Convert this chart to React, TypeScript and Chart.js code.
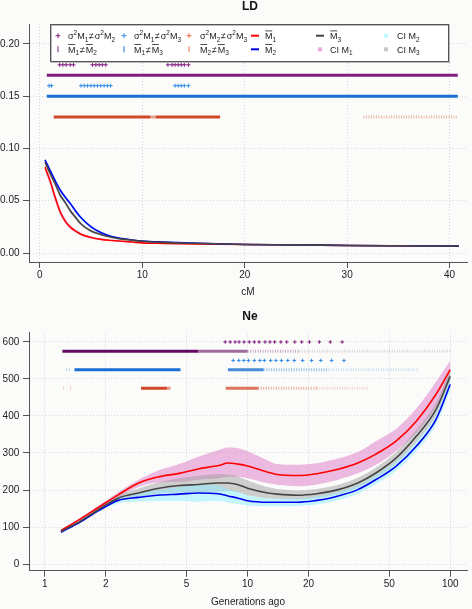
import React, { useEffect, useRef } from "react";
import { Chart, registerables } from "chart.js";

Chart.register(...registerables);

const FONT = '"Liberation Sans", Arial, Helvetica, sans-serif';
const BG = "#fbfcfa";

// ---------------- LD panel data ----------------
const ldCM = [0.5, 1, 1.5, 2, 2.5, 3, 3.5, 4, 5, 6, 7, 8, 9, 10, 12, 15, 20, 25, 30, 35, 40.9];
const ldM1 = [0.082, 0.069, 0.053, 0.039, 0.030, 0.0245, 0.021, 0.018, 0.0148, 0.013, 0.012, 0.0112, 0.0105, 0.0097, 0.0092, 0.0087, 0.0081, 0.0078, 0.0072, 0.0069, 0.0066];
const ldM2 = [0.089, 0.079, 0.069, 0.06, 0.053, 0.047, 0.04, 0.034, 0.025, 0.0193, 0.0157, 0.0138, 0.0125, 0.0115, 0.0105, 0.0095, 0.0082, 0.0078, 0.0072, 0.0069, 0.0067];
const ldM3 = [0.087, 0.076, 0.066, 0.055, 0.048, 0.04, 0.034, 0.028, 0.021, 0.0175, 0.015, 0.0133, 0.0123, 0.0112, 0.0102, 0.0093, 0.0082, 0.0078, 0.0072, 0.0069, 0.0067];
const ldCI1Lo = [0.079, 0.065, 0.049, 0.036, 0.028, 0.0225, 0.0195, 0.0167, 0.0138, 0.0122, 0.0113, 0.0106, 0.01, 0.0093, 0.0089, 0.0084, 0.0079, 0.0076, 0.007, 0.0067, 0.0064];
const ldCI1Hi = [0.085, 0.072, 0.056, 0.042, 0.033, 0.0265, 0.0225, 0.0193, 0.0158, 0.0138, 0.0127, 0.0118, 0.011, 0.0101, 0.0095, 0.009, 0.0083, 0.008, 0.0074, 0.0071, 0.0068];
const ldCI2Lo = [0.087, 0.077, 0.067, 0.058, 0.051, 0.045, 0.038, 0.032, 0.0235, 0.018, 0.0147, 0.013, 0.0118, 0.0109, 0.01, 0.0091, 0.0079, 0.0075, 0.007, 0.0067, 0.0065];
const ldCI2Hi = [0.091, 0.081, 0.071, 0.062, 0.055, 0.049, 0.042, 0.036, 0.0265, 0.0206, 0.0167, 0.0146, 0.0132, 0.0121, 0.011, 0.0099, 0.0085, 0.0081, 0.0074, 0.0071, 0.0069];
const ldCI3Lo = [0.085, 0.074, 0.064, 0.053, 0.046, 0.038, 0.032, 0.0265, 0.0198, 0.0165, 0.0142, 0.0126, 0.0117, 0.0107, 0.0098, 0.009, 0.0079, 0.0075, 0.007, 0.0067, 0.0065];
const ldCI3Hi = [0.089, 0.078, 0.068, 0.057, 0.05, 0.042, 0.036, 0.0295, 0.0222, 0.0185, 0.0158, 0.014, 0.0129, 0.0117, 0.0106, 0.0096, 0.0085, 0.0081, 0.0074, 0.0071, 0.0069];

// significance rows (LD)
const ldRowLevels = [0.18, 0.17, 0.16, 0.15, 0.14, 0.13];
const ldVar12 = [1.93, 2.25, 2.57, 2.96, 3.28, 5.14, 5.47, 5.79, 6.1, 6.43, 12.5, 12.9, 13.2, 13.5, 13.8, 14.1, 14.5];
const ldVar13 = [0.9, 1.13, 4.02, 4.34, 4.66, 4.98, 5.3, 5.62, 5.95, 6.27, 6.59, 6.91, 13.2, 13.5, 13.8, 14.1, 14.5];
const ldMean12 = [0.68, 40.8];
const ldMean12Alpha = [1];
const ldMean13 = [0.68, 40.8];
const ldMean13Alpha = [1];
const ldMean23 = [1.35, 10.8, 11.3, 17.6, 31.6, 40.7];
const ldMean23Alpha = [1, 0.5, 1, null, 0.4];

const ldXTicks = [0, 10, 20, 30, 40];
const ldYTicks = [0, 0.05, 0.1, 0.15, 0.2];

// ---------------- Ne panel data ----------------
const neGen = [1.2, 1.5, 1.85, 2.3, 2.9, 3.6, 4.6, 5.7, 7.2, 8, 9, 10, 12.6, 14, 17.7, 22, 25, 28, 35, 43, 54, 68, 85, 100];
const neM1 = [90, 122, 154, 187, 219, 235, 245, 257, 266, 273, 270, 265, 248, 242, 239, 244, 250, 256, 273, 297, 332, 386, 458, 525];
const neM2 = [86, 114, 145, 172, 180, 186, 189, 192, 190, 184, 178, 171, 167, 167, 167, 172, 177, 184, 201, 228, 264, 318, 390, 485];
const neM3 = [88, 116, 148, 178, 192, 204, 212, 215, 219, 219, 214, 205, 192, 189, 186, 190, 195, 201, 219, 246, 286, 345, 417, 507];
const neCI1Lo = [87, 118, 149, 180, 208, 220, 222, 228, 232, 236, 236, 232, 218, 214, 210, 215, 221, 228, 245, 268, 305, 354, 425, 500];
const neCI1Hi = [94, 126, 159, 194, 228, 252, 270, 290, 308, 315, 313, 305, 280, 270, 268, 272, 279, 285, 303, 332, 365, 420, 492, 550];
const neCI2Lo = [84, 111, 141, 164, 168, 170, 170, 168, 170, 166, 162, 158, 156, 156, 157, 161, 166, 173, 190, 216, 252, 305, 376, 468];
const neCI2Hi = [88, 117, 149, 180, 192, 200, 208, 214, 212, 203, 195, 186, 178, 177, 177, 183, 188, 195, 212, 240, 277, 331, 404, 502];
const neCI3Lo = [86, 113, 144, 172, 182, 190, 193, 194, 196, 197, 193, 186, 178, 176, 174, 178, 183, 189, 206, 232, 271, 329, 400, 490];
const neCI3Hi = [90, 119, 152, 186, 204, 220, 232, 238, 243, 242, 236, 226, 208, 203, 199, 203, 208, 214, 233, 261, 302, 362, 435, 525];

const neRowLevels = [600, 575, 550, 525, 500, 475];
const neVar12 = [7.76, 8.21, 8.68, 9.08, 9.61, 10.2, 10.8, 11.4, 12.2, 12.9, 13.6, 14.6, 15.6, 17.1, 18.5, 20.2, 22.6, 25.6, 29.3];
const neVar13 = [8.5, 9.06, 9.58, 10.1, 10.8, 11.5, 12.1, 13.0, 13.8, 14.7, 15.8, 17.0, 18.7, 20.7, 23.0, 26.0, 29.9];
const neMean12 = [1.22, 5.7, 10, 18, 101];
const neMean12Alpha = [1, 0.6, 0.35, 0.18];
const neMean13 = [1.27, 1.29, 1.31, 1.33, 1.4, 4.67, 8.0, 12, 25, 70];
const neMean13Alpha = [0.3, null, 0.3, null, 1, null, 0.8, 0.45, 0.2];
const neMean23 = [1.23, 1.25, 1.33, 1.35, 2.98, 4.0, 4.17, 7.8, 11.3, 22, 40];
const neMean23Alpha = [0.3, null, 0.3, null, 1, 0.55, null, 0.75, 0.45, 0.2];

const neXTicks = [1, 2, 5, 10, 20, 50, 100];
const neYTicks = [0, 100, 200, 300, 400, 500, 600];

// legend labels (^ = superscript, _ = subscript, ~ = overbar)
const legendLabels = [
  "σ^2M_1≠σ^2M_2", "~M_1≠~M_2",
  "σ^2M_1≠σ^2M_3", "~M_1≠~M_3",
  "σ^2M_2≠σ^2M_3", "~M_2≠~M_3",
  "~M_1", "~M_2",
  "~M_3", "CI M_1",
  "CI M_2", "CI M_3",
];

// ---------------- styles ----------------
const PURPLE = "128,28,128";
const BLUEROW = "24,110,210";
const BLUECROSS = "50,140,230";
const ORANGE = "210,72,40";
const RED = "#ff0000";
const BLUE = "#0000ee";
const BLACK = "#454545";
const PINK = "rgba(222,120,200,0.5)";
const CYAN = "rgba(140,238,255,0.5)";
const GRAY = "rgba(150,150,150,0.45)";

const legendKinds = [
  ["cross", `rgb(${PURPLE})`], ["bar", `rgb(${PURPLE})`],
  ["cross", `rgb(${BLUECROSS})`], ["bar", `rgb(${BLUEROW})`],
  ["cross", "rgb(232,110,70)"], ["bar", "rgb(232,110,70)"],
  ["line", RED], ["line", BLUE],
  ["line", BLACK], ["sq", "rgba(236,170,220,1)"],
  ["sq", "rgba(190,248,255,1)"], ["sq", "rgba(200,200,200,1)"],
];

function zip(xs: number[], ys: number[]) {
  return xs.map((x, i) => ({ x, y: ys[i] }));
}

function lineDs(xs: number[], ys: number[], color: string) {
  return {
    data: zip(xs, ys), borderColor: color, borderWidth: 1.6, pointRadius: 0,
    fill: false, cubicInterpolationMode: "monotone", order: 0,
  };
}

function bandDs(xs: number[], lo: number[], hi: number[], color: string) {
  return [
    { data: zip(xs, lo), borderWidth: 0, borderColor: "rgba(0,0,0,0)", pointRadius: 0, fill: false, cubicInterpolationMode: "monotone", order: 3 },
    { data: zip(xs, hi), borderWidth: 0, borderColor: "rgba(0,0,0,0)", pointRadius: 0, fill: "-1", backgroundColor: color, cubicInterpolationMode: "monotone", order: 3 },
  ];
}

function rowDs(xs: number[], level: number, alphas: (number | null)[], rgb: string, width: number) {
  return {
    data: xs.map((x) => ({ x, y: level })),
    borderColor: `rgba(${rgb},1)`,
    borderWidth: width,
    pointRadius: 0,
    fill: false,
    tension: 0,
    order: 1,
    segment: {
      borderColor: (ctx: any) => {
        const a = alphas[ctx.p0DataIndex];
        return a == null ? "rgba(0,0,0,0)" : `rgba(${rgb},${a})`;
      },
      borderDash: (ctx: any) => {
        const a = alphas[ctx.p0DataIndex];
        return a != null && a < 0.5 ? [1, 1.5] : undefined;
      },
    },
  };
}

function crossDs(xs: number[], level: number, rgb: string, r: number) {
  return {
    data: xs.map((x) => ({ x, y: level })),
    showLine: false,
    pointStyle: "cross",
    pointRadius: r,
    pointBorderWidth: 1,
    pointBorderColor: `rgb(${rgb})`,
    pointBackgroundColor: `rgb(${rgb})`,
    order: 1,
  };
}

function axis(type: string, min: number, max: number, ticks: number[], fmt: (v: number) => string, title: string, size: number, isX: boolean, tickPad: number, titlePad: number) {
  return {
    type, min, max, bounds: "data",
    afterBuildTicks: (s: any) => { s.ticks = ticks.map((v) => ({ value: v })); },
    afterFit: (s: any) => { if (isX) s.height = size; else s.width = size; },
    grid: { color: "#d6d6d6", lineWidth: 1, drawTicks: true, tickLength: 6, tickColor: "#555", tickWidth: 1 },
    border: { display: true, color: "#555", width: 1, dash: [1, 2] },
    ticks: { color: "#222", font: { family: FONT, size: 10 }, padding: tickPad, autoSkip: false, maxRotation: 0, callback: (v: any) => fmt(Number(v)) },
    title: title ? { display: true, text: title, color: "#222", font: { family: FONT, size: 10 }, padding: { top: 0, bottom: titlePad } } : { display: false },
  };
}

function drawRich(ctx: CanvasRenderingContext2D, text: string, x: number, base: number, size: number) {
  let bar = false;
  let mode = "";
  for (const c of text) {
    if (c === "~") { bar = true; continue; }
    if (c === "^") { mode = "sup"; continue; }
    if (c === "_") { mode = "sub"; continue; }
    const fs = mode ? size * 0.72 : size;
    const dy = mode === "sub" ? size * 0.28 : mode === "sup" ? -size * 0.42 : 0;
    ctx.font = `${fs}px ${FONT}`;
    const pad = c === "≠" ? 0.8 : 0;
    x += pad;
    ctx.fillText(c, x, base + dy);
    const w = ctx.measureText(c).width;
    if (bar) {
      ctx.save();
      ctx.strokeStyle = "#222";
      ctx.lineWidth = 0.8;
      ctx.beginPath();
      ctx.moveTo(x + 0.3, base - size * 0.9);
      ctx.lineTo(x + w - 0.3, base - size * 0.9);
      ctx.stroke();
      ctx.restore();
    }
    x += w + pad;
    bar = false;
    mode = "";
  }
}

const LEG = { left: 50, top: 24, width: 398, height: 37, symX: [58, 124, 189, 255, 320, 386], textX: [68, 134, 200, 265, 330, 397], rowY: [35.7, 49.3] };

const legendPlugin = {
  id: "ldLegend",
  afterDraw(chart: any) {
    const ctx: CanvasRenderingContext2D = chart.ctx;
    ctx.save();
    ctx.fillStyle = "#ffffff";
    ctx.fillRect(LEG.left, LEG.top, LEG.width, LEG.height);
    ctx.strokeStyle = "#bbb";
    ctx.lineWidth = 1;
    ctx.strokeRect(LEG.left + 1.5, LEG.top + 1.5, LEG.width, LEG.height);
    ctx.strokeStyle = "#555";
    ctx.strokeRect(LEG.left + 0.5, LEG.top + 0.5, LEG.width, LEG.height);
    legendLabels.forEach((label, i) => {
      const col = Math.floor(i / 2);
      const row = i % 2;
      const sx = LEG.symX[col];
      const y = LEG.rowY[row];
      const [kind, color] = legendKinds[i];
      ctx.strokeStyle = color;
      ctx.fillStyle = color;
      if (kind === "cross") {
        ctx.lineWidth = 1;
        ctx.beginPath();
        ctx.moveTo(sx - 2.5, y); ctx.lineTo(sx + 2.5, y);
        ctx.moveTo(sx, y - 2.5); ctx.lineTo(sx, y + 2.5);
        ctx.stroke();
      } else if (kind === "bar") {
        ctx.lineWidth = 1;
        ctx.beginPath();
        ctx.moveTo(sx, y - 3); ctx.lineTo(sx, y + 3);
        ctx.stroke();
      } else if (kind === "line") {
        ctx.lineWidth = 2;
        ctx.beginPath();
        ctx.moveTo(sx - 4, y); ctx.lineTo(sx + 4, y);
        ctx.stroke();
      } else {
        ctx.fillRect(sx - 2, y - 2, 4, 4);
      }
      ctx.fillStyle = "#222";
      ctx.textBaseline = "alphabetic";
      ctx.textAlign = "left";
      drawRich(ctx, label, LEG.textX[col], y + 3.3, 9);
    });
    ctx.restore();
  },
};

function titlePlugin(text: string, x: number, y: number) {
  return {
    id: "panelTitle",
    afterDraw(chart: any) {
      const ctx: CanvasRenderingContext2D = chart.ctx;
      ctx.save();
      ctx.font = `bold 12px ${FONT}`;
      ctx.fillStyle = "#111";
      ctx.textAlign = "center";
      ctx.textBaseline = "middle";
      ctx.fillText(text, x, y);
      ctx.restore();
    },
  };
}

const commonOpts = {
  responsive: false,
  animation: false,
  events: [],
  plugins: { legend: { display: false }, tooltip: { enabled: false }, title: { display: false } },
};

export default function App() {
  const topRef = useRef<HTMLCanvasElement>(null);
  const botRef = useRef<HTMLCanvasElement>(null);

  useEffect(() => {
    document.body.style.margin = "0";
    document.body.style.background = BG;

    const topDatasets: any[] = [
      ...bandDs(ldCM, ldCI2Lo, ldCI2Hi, CYAN),
      ...bandDs(ldCM, ldCI3Lo, ldCI3Hi, GRAY),
      ...bandDs(ldCM, ldCI1Lo, ldCI1Hi, PINK),
      crossDs(ldVar12, ldRowLevels[0], PURPLE, 2),
      rowDs(ldMean12, ldRowLevels[1], ldMean12Alpha, PURPLE, 3),
      crossDs(ldVar13, ldRowLevels[2], BLUECROSS, 2),
      rowDs(ldMean13, ldRowLevels[3], ldMean13Alpha, BLUEROW, 3),
      rowDs(ldMean23, ldRowLevels[5], ldMean23Alpha, ORANGE, 3),
      lineDs(ldCM, ldM3, BLACK),
      lineDs(ldCM, ldM2, BLUE),
      lineDs(ldCM, ldM1, RED),
    ];

    const c1 = new Chart(topRef.current as HTMLCanvasElement, {
      type: "line",
      data: { datasets: topDatasets },
      options: {
        ...commonOpts,
        layout: { padding: { top: 24, right: 1, left: 0, bottom: 0 } },
        scales: {
          x: axis("linear", -1.06, 41.7, ldXTicks, (v) => String(v), "cM", 38, true, 1, 1.3),
          y: axis("linear", -0.0086, 0.219, ldYTicks, (v) => v.toFixed(2), "", 29, false, 3.5, 0),
        },
      } as any,
      plugins: [legendPlugin, titlePlugin("LD", 250, 7)],
    } as any);

    const botDatasets: any[] = [
      ...bandDs(neGen, neCI2Lo, neCI2Hi, CYAN),
      ...bandDs(neGen, neCI3Lo, neCI3Hi, GRAY),
      ...bandDs(neGen, neCI1Lo, neCI1Hi, PINK),
      crossDs(neVar12, neRowLevels[0], PURPLE, 1.8),
      rowDs(neMean12, neRowLevels[1], neMean12Alpha, "100,10,100", 3),
      crossDs(neVar13, neRowLevels[2], BLUECROSS, 1.8),
      rowDs(neMean13, neRowLevels[3], neMean13Alpha, BLUEROW, 3),
      rowDs(neMean23, neRowLevels[5], neMean23Alpha, ORANGE, 3),
      lineDs(neGen, neM3, BLACK),
      lineDs(neGen, neM2, BLUE),
      lineDs(neGen, neM1, RED),
    ];

    const c2 = new Chart(botRef.current as HTMLCanvasElement, {
      type: "line",
      data: { datasets: botDatasets },
      options: {
        ...commonOpts,
        layout: { padding: { top: 32.7, right: 1, left: 0, bottom: 0 } },
        scales: {
          x: axis("logarithmic", 0.835, 121, neXTicks, (v) => String(v), "Generations ago", 38.3, true, 1.3, 0.3),
          y: axis("linear", -18, 625, neYTicks, (v) => String(v), "", 29, false, 3.7, 0),
        },
      } as any,
      plugins: [titlePlugin("Ne", 250, 17)],
    } as any);

    return () => {
      c1.destroy();
      c2.destroy();
    };
  }, []);

  return (
    <div style={{ width: 472, height: 609, overflow: "hidden", background: BG }}>
      <canvas ref={topRef} width={472} height={300} style={{ display: "block" }} />
      <canvas ref={botRef} width={472} height={309} style={{ display: "block" }} />
    </div>
  );
}
